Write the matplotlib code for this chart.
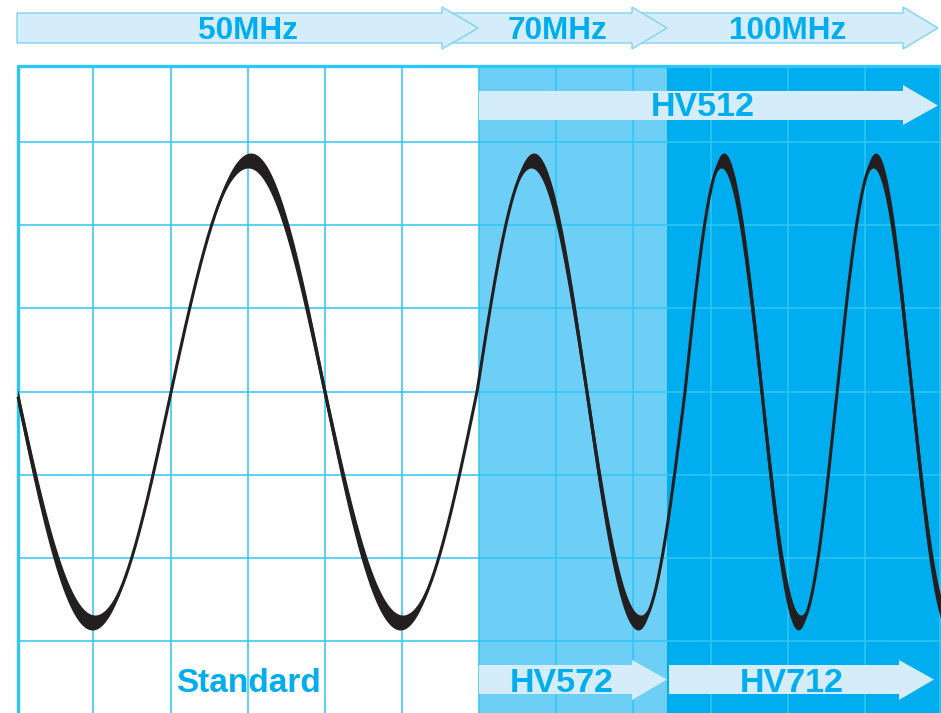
import numpy as np
import matplotlib.pyplot as plt
from matplotlib.patches import Polygon, Rectangle

# labels
freq_labels = ["50MHz", "70MHz", "100MHz"]
model_labels = ["Standard", "HV572", "HV712"]
top_model = "HV512"

# waveform: x position (px) of each quarter-cycle point
phase_x = [17, 94, 171, 250, 325, 402, 477, 533, 587, 640, 685, 723, 762, 800, 837, 875, 912, 950]
phase_val = [0.5, 0.75, 1.0, 1.25, 1.5, 1.75, 2.0, 2.25, 2.5, 2.75, 3.0, 3.25, 3.5, 3.75, 4.0, 4.25, 4.5, 4.75]

grid_x = [93, 171, 248, 325, 402, 479, 556, 633, 711, 788, 865, 940]
grid_y = [142, 225, 308, 392, 475, 558, 641]

W, H = 941, 713
CYAN = "#00aeef"
GRID = "#2ec6f4"
LIGHT = "#6dcff6"
PALE = "#d5edfa"
INK = "#231f20"
FONT = "Liberation Sans"

fig = plt.figure(figsize=(W / 100, H / 100), dpi=100)
ax = fig.add_axes([0, 0, 1, 1])
ax.set_xlim(0, W)
ax.set_ylim(H, 0)
ax.axis("off")

# shaded bands
ax.add_patch(Rectangle((479, 66), 667 - 479, H - 66, color=LIGHT, lw=0, zorder=1))
ax.add_patch(Rectangle((667, 66), W - 667, H - 66, color=CYAN, lw=0, zorder=1))

# grid
for gx in grid_x:
    ax.plot([gx, gx], [66, H], color=GRID, lw=1.1, zorder=2)
for gy in grid_y:
    ax.plot([18, W], [gy, gy], color=GRID, lw=1.1, zorder=2)
ax.plot([18, 18, W], [H, 66, 66], color=GRID, lw=2.4, zorder=2, solid_capstyle="butt")


def arrow(x0, xh, xt, yt, yb, ht, hb, fc, ec=None, z=3):
    ym = (yt + yb) / 2
    pts = [(x0, yt), (xh, yt), (xh, ht), (xt, ym), (xh, hb), (xh, yb), (x0, yb)]
    ax.add_patch(Polygon(pts, closed=True, fc=fc, ec=ec if ec else "none",
                         lw=1.0, zorder=z, joinstyle="miter"))


# top frequency arrows (later ones underneath)
top_spans = [(17, 442, 478), (442, 632, 667), (632, 903, 938)]
for i in reversed(range(3)):
    x0, xh, xt = top_spans[i]
    arrow(x0, xh, xt, 13, 43, 7, 49, PALE, "#7fd3f5", z=3 + (3 - i))
label_x = [248, 558, 788]
for lx, lab in zip(label_x, freq_labels):
    ax.text(lx, 31, lab, color=CYAN, fontsize=22.7, fontweight="bold",
            family=FONT, ha="center", va="center", zorder=10)

# HV512 arrow
arrow(479, 903, 938, 91, 120, 85, 125, PALE, z=4)
ax.text(703, 108, top_model, color=CYAN, fontsize=24.5, fontweight="bold",
        family=FONT, ha="center", va="center", zorder=10)

# bottom arrows
arrow(479, 632, 667, 665, 694, 660, 700, PALE, z=4)
arrow(669, 899, 934, 665, 694, 660, 700, PALE, z=4)
ax.text(248, 684, model_labels[0], color=CYAN, fontsize=24, fontweight="bold",
        family=FONT, ha="center", va="center", zorder=10)
ax.text(562, 683, model_labels[1], color=CYAN, fontsize=24.5, fontweight="bold",
        family=FONT, ha="center", va="center", zorder=10)
ax.text(792, 683, model_labels[2], color=CYAN, fontsize=24.5, fontweight="bold",
        family=FONT, ha="center", va="center", zorder=10)

# waveform with a calligraphic pen
xs = np.linspace(18, 941, 4000)
c, A = 392, 231
h, w0, e = 1.3, 1.5, 6.0


def g(x):
    return np.sin(2 * np.pi * np.interp(x, phase_x, phase_val))


w = w0 + e * np.abs(g(xs))
top = A * g(xs - h) + w
bot = A * g(xs + h) - w
ax.fill_between(xs, c - bot, c - top, where=top > bot, interpolate=True,
                color=INK, lw=0, zorder=6)
ax.plot(xs, c - A * g(xs), color=INK, lw=2.2, zorder=6, solid_capstyle="butt")

fig.savefig("out.png", dpi=100)
